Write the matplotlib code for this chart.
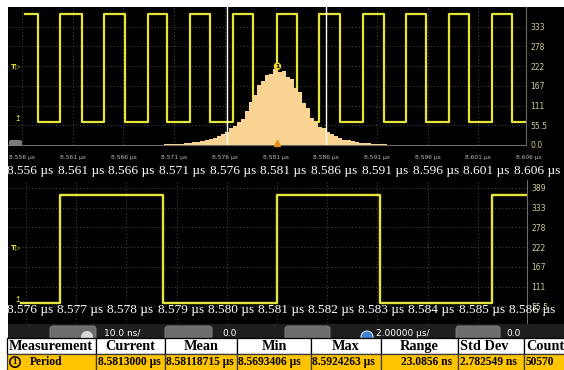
import numpy as np
import matplotlib.pyplot as plt
from matplotlib.patches import Rectangle, FancyBboxPatch, Circle
from matplotlib.transforms import blended_transform_factory, offset_copy

W, H = 564, 370

# time axis labels (µs)
top_times = [8.556, 8.561, 8.566, 8.571, 8.576, 8.581, 8.586, 8.591, 8.596, 8.601, 8.606]
zoom_times = [8.576, 8.577, 8.578, 8.579, 8.580, 8.581, 8.582, 8.583, 8.584, 8.585, 8.586]

# vertical scale labels
top_levels = [0.0, 55.5, 111, 167, 222, 278, 333]
top_level_labels = ["0.0", "55.5", "111", "167", "222", "278", "333"]
zoom_levels = [55.5, 111, 167, 222, 278, 333, 389]
zoom_level_labels = ["55.5", "111", "167", "222", "278", "333", "389"]

# period histogram, 0.4 ns bins starting at 8.5692 µs
hist_start = 8.5692
hist_width = 0.0004
hist_counts = [1, 1, 2, 2, 3, 3, 4, 5, 6, 8,
               9, 11, 13, 17, 20, 24, 31, 36, 47, 53,
               66, 74, 97, 122, 142, 168, 179, 198, 200, 214,
               207, 208, 192, 185, 162, 148, 117, 103, 76, 66,
               52, 47, 36, 31, 24, 21, 15, 14, 10, 9,
               7, 6, 5, 4, 3, 2, 2, 1, 1]

# clock trace edges on the upper view (µs)
top_start = 8.5563
top_end = 8.6057
top_rises = [8.55975, 8.56409, 8.56843, 8.57257, 8.57681, 8.58115,
             8.58529, 8.58963, 8.59387, 8.59811, 8.60235]
top_falls = [8.55758, 8.56192, 8.56616, 8.57030, 8.57454, 8.57878,
             8.58312, 8.58736, 8.59170, 8.59584, 8.60008, 8.60432]

# clock trace edges on the zoomed view (µs)
zoom_start = 8.5759
zoom_end = 8.58598
zoom_rises = [8.57668, 8.58100, 8.58528]
zoom_falls = [8.57873, 8.58305]

trace_high = 370
trace_low = 65
trigger_level = 222
ground_level = 55.5
badge_level = 222
cursor_a = 8.5762
cursor_b = 8.5860

columns = ["Measurement", "Current", "Mean", "Min", "Max", "Range", "Std Dev", "Count"]
period_values = ["8.5813000 µs", "8.58118715 µs", "8.5693406 µs", "8.5924263 µs",
                 "23.0856 ns", "2.782549 ns", "50570"]
period_mean = 8.58118715

TRACE = "#E4E43A"
GRID = "#4c4c4c"
TICK = "#d6cf9c"
SERIF = "Liberation Serif"


def square_wave(start, end, rises, falls, first_high):
    """Builds the vertices of a clean square wave from its edge times."""
    edges = sorted([(t, trace_high) for t in rises] + [(t, trace_low) for t in falls])
    level = trace_high if first_high else trace_low
    xs, ys = [start], [level]
    for t, new in edges:
        xs += [t, t]
        ys += [level, new]
        level = new
    xs.append(end)
    ys.append(level)
    return xs, ys


def panel(fig, left, top, right, bottom):
    return fig.add_axes([left / W, 1 - bottom / H, (right - left) / W, (bottom - top) / H])


def style_panel(ax, times, levels, level_labels):
    ax.set_facecolor("black")
    ax.set_xticks(times)
    ax.set_xticklabels([])
    ax.set_yticks(levels)
    ax.set_yticklabels(level_labels)
    ax.yaxis.tick_right()
    ax.tick_params(length=0, colors=TICK, labelsize=5.5, pad=3)
    ax.grid(True, color=GRID, linestyle=(0, (1, 2.5)), linewidth=0.7)
    for side in ["left", "top"]:
        ax.spines[side].set_visible(False)
    for side in ["right", "bottom"]:
        ax.spines[side].set_color("#6a6a6a")
    # trigger and ground markers on the left edge
    tr = blended_transform_factory(ax.transAxes, ax.transData)
    ax.text(0.006, trigger_level, "T▷", transform=tr, color=TRACE, fontsize=5,
            va="center", ha="left", fontweight="bold")
    ax.text(0.012, ground_level + 20, "↥", transform=tr, color=TRACE, fontsize=5.5,
            va="center", ha="left")


fig = plt.figure(figsize=(W / 100, H / 100), dpi=100, facecolor="white")
fig.add_artist(Rectangle((8 / W, 1 - 338 / H), 556 / W, 331 / H,
                         transform=fig.transFigure, facecolor="black", zorder=-10))

# upper view: clock trace with the period histogram
ax1 = panel(fig, 8, 7, 526, 145)
style_panel(ax1, top_times, top_levels, top_level_labels)
ax1.set_xlim(8.55462, 8.6057)
ax1.set_ylim(0, 389)
xs, ys = square_wave(top_start, top_end, top_rises, top_falls, True)
ax1.plot(xs, ys, color=TRACE, lw=1.6, zorder=2)
edges = hist_start + hist_width * np.arange(len(hist_counts) + 1)
ax1.stairs(hist_counts, edges, fill=True, color="#F8D391", zorder=3)
ax1.axvline(cursor_a, color="white", lw=1.0, zorder=4)
ax1.axvline(cursor_b, color="white", lw=1.0, zorder=4)
ax1.text(period_mean, badge_level, "1", ha="center", va="center", fontsize=4.5,
         fontweight="bold", color="black", zorder=6,
         bbox=dict(boxstyle="circle,pad=0.2", fc="#F2D22E", ec="none"))
ax1.plot(period_mean, 6, marker="^", color="#E8901A", ms=4, zorder=6, clip_on=False)

tr1 = blended_transform_factory(ax1.transData, ax1.transAxes)
big1 = offset_copy(tr1, fig=fig, x=8, units="dots")
for t in top_times:
    ax1.text(t, -0.087, f"{t:.3f} µs", transform=tr1, ha="center", va="center",
             fontsize=4.3, color="#bcbcbc")
    ax1.text(t, -0.188, f"{t:.3f} µs", transform=big1, ha="center", va="center",
             fontsize=9.6, family=SERIF, color="white")

# lower view: zoom on one period
ax2 = panel(fig, 8, 180, 527, 326)
style_panel(ax2, zoom_times, zoom_levels, zoom_level_labels)
ax2.set_xlim(8.575641, 8.58598)
ax2.set_ylim(0, 411.5)
xs, ys = square_wave(zoom_start, zoom_end, zoom_rises, zoom_falls, False)
ax2.plot(xs, ys, color=TRACE, lw=1.7, zorder=2)

tr2 = blended_transform_factory(ax2.transData, ax2.transAxes)
big2 = offset_copy(tr2, fig=fig, x=4, units="dots")
for t in zoom_times:
    ax2.text(t, 0.11, f"{t:.3f} µs", transform=big2, ha="center", va="center",
             fontsize=9.6, family=SERIF, color="white", zorder=7)

# overlay in pixel units: control strip and measurement table
deco = fig.add_axes([0, 0, 1, 1])
deco.set_xlim(0, W)
deco.set_ylim(H, 0)
deco.axis("off")
deco.set_zorder(5)
deco.patch.set_alpha(0)

deco.add_patch(FancyBboxPatch((9, 140), 13, 6, boxstyle="round,pad=0,rounding_size=2",
                              fc="#7a7a7a", ec="none"))
deco.add_patch(Rectangle((8, 324), 556, 14, fc="#1e1e1e", ec="none", zorder=1))
for x0, x1 in [(50, 96), (165, 212), (285, 330), (456, 500)]:
    deco.add_patch(FancyBboxPatch((x0, 326), x1 - x0, 14,
                                  boxstyle="round,pad=0,rounding_size=3",
                                  fc="#6c6c6c", ec="#8a8a8a", lw=0.6, zorder=2))
deco.add_patch(Circle((87, 337), 6, fc="#d8d8d8", ec="none", zorder=3))
deco.add_patch(Circle((367, 337), 6, fc="#3d7fd0", ec="#cfe0f5", lw=0.8, zorder=3))
for x, label in [(104, "10.0 ns/"), (222, "0.0"), (376, "2.00000 µs/"), (506, "0.0")]:
    deco.text(x, 329, label, color="white", fontsize=6.5, va="top", zorder=3)

col_edges = [7, 96, 165, 237, 311, 381, 458, 524, 566]
head_align = ["left", "center", "center", "center", "center", "center", "left", "left"]
for i, name in enumerate(columns):
    x0, x1 = col_edges[i], col_edges[i + 1]
    deco.add_patch(Rectangle((x0, 338), x1 - x0, 16, fc="white", ec="black", lw=0.9, zorder=10))
    deco.add_patch(Rectangle((x0, 354), x1 - x0, 17, fc="#FFC400", ec="#3a3a3a", lw=0.9, zorder=10))
    if head_align[i] == "center":
        hx = (x0 + x1) / 2
    else:
        hx = x0 + 2
    deco.text(hx, 346.5, name, ha=head_align[i], va="center", fontsize=10.3,
              fontweight="bold", family=SERIF, color="black", zorder=11)

deco.add_patch(Circle((15, 362), 5.2, fc="none", ec="black", lw=1.1, zorder=11))
deco.text(15, 362.3, "1", ha="center", va="center", fontsize=6.5, fontweight="bold",
          family=SERIF, zorder=12)
deco.text(30, 362.3, "Period", ha="left", va="center", fontsize=8.3, fontweight="bold",
          family=SERIF, zorder=12)
for i, val in enumerate(period_values):
    x0, x1 = col_edges[i + 1], col_edges[i + 2]
    if i == 4:
        deco.text(x1 - 6, 362.3, val, ha="right", va="center", fontsize=8.3,
                  fontweight="bold", family=SERIF, zorder=12)
    else:
        deco.text(x0 + 1.5, 362.3, val, ha="left", va="center", fontsize=8.3,
                  fontweight="bold", family=SERIF, zorder=12)

fig.savefig("out.png", dpi=100, facecolor=fig.get_facecolor())
